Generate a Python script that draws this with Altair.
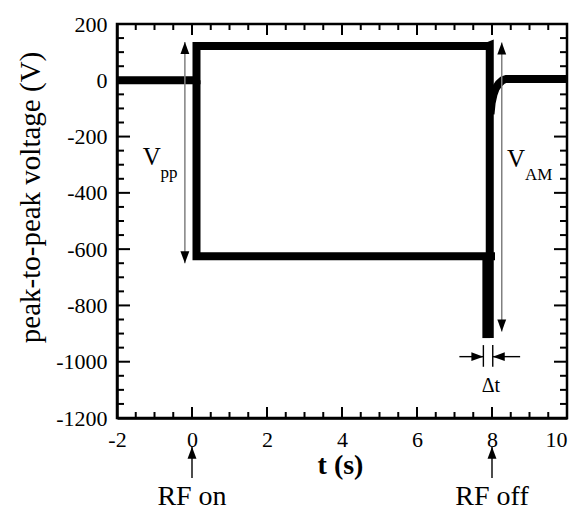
import altair as alt
import pandas as pd

# ---------------- data (t in s, v in V) ----------------
# upper envelope of the signal
upper_t = [-2.0, 0.12, 0.12, 7.90, 7.94, 7.94]
upper_v = [0, 0, 122, 122, 124, -916]
# lower envelope of the signal
lower_t = [0.12, 0.12, 8.08]
lower_v = [0, -625, -625]
# drop of the lower envelope after RF off
drop_t = [7.85, 7.85]
drop_v = [-625, -916]
# recovery to 0 V after RF off
recov_t = [7.96, 7.99, 8.04, 8.10, 8.18, 8.28, 8.38, 10.0]
recov_v = [-120, -80, -50, -28, -12, 0, 5, 5]

# axis ticks
x_major = [-2, 0, 2, 4, 6, 8, 10]
x_minor = [-1.5, -1, -0.5, 0.5, 1, 1.5, 2.5, 3, 3.5, 4.5, 5, 5.5,
           6.5, 7, 7.5, 8.5, 9, 9.5]
y_major = [200, 0, -200, -400, -600, -800, -1000, -1200]
y_minor = [150, 100, 50, -50, -100, -150, -250, -300, -350, -450, -500, -550,
           -650, -700, -750, -850, -900, -950, -1050, -1100, -1150]

# grey double arrows (V_pp, V_AM)
grey_t = [-0.19, 8.26]
grey_v1 = [136, 134]
grey_v2 = [-650, -893]

# black annotation rules: RF on, RF off, delta-t bars, delta-t shafts
blk_t1 = [0, 8, 7.77, 8.02, 7.13, 8.75]
blk_t2 = [0, 8, 7.77, 8.02, 7.77, 8.02]
blk_v1 = [-1413, -1413, -941, -941, -982, -982]
blk_v2 = [-1302, -1302, -1018, -1018, -982, -982]

# arrow heads
head_t = [-0.19, -0.19, 8.26, 8.26, 0, 8, 7.77, 8.02]
head_v = [136, -650, 134, -893, -1302, -1302, -982, -982]
head_dir = ["up", "down", "up", "down", "up", "up", "right", "left"]

# texts
big_text = ["V", "V"]
big_t = [-1.315, 8.40]
big_v = [-301, -308]
sub_text = ["pp", "AM"]
sub_t = [-0.837, 8.88]
sub_v = [-347, -354]
dt_text = ["\u0394t"]
dt_t = [7.97]
dt_v = [-1107]
rf_text = ["RF on", "RF off"]
rf_t = [0, 8]
rf_v = [-1509, -1509]

# ---------------- tables ----------------
rows = []
for name, ts, vs in [("upper", upper_t, upper_v), ("lower", lower_t, lower_v),
                     ("drop", drop_t, drop_v), ("recov", recov_t, recov_v)]:
    for i, (t, v) in enumerate(zip(ts, vs)):
        rows.append({"series": name, "idx": i, "t": t, "v": v})
sig = pd.DataFrame(rows)

xmaj = pd.DataFrame({"t": x_major})
xmin = pd.DataFrame({"t": x_minor})
ymaj = pd.DataFrame({"v": y_major})
ymin = pd.DataFrame({"v": y_minor})

grey = pd.DataFrame({"t": grey_t, "t2": grey_t, "v": grey_v1, "v2": grey_v2})
blk = pd.DataFrame({"t": blk_t1, "t2": blk_t2, "v": blk_v1, "v2": blk_v2})
heads = pd.DataFrame({"t": head_t, "v": head_v, "dir": head_dir})
bigdf = pd.DataFrame({"t": big_t, "v": big_v, "label": big_text})
subdf = pd.DataFrame({"t": sub_t, "v": sub_v, "label": sub_text})
dtdf = pd.DataFrame({"t": dt_t, "v": dt_v, "label": dt_text})
rfdf = pd.DataFrame({"t": rf_t, "v": rf_v, "label": rf_text})

FONT = "Liberation Serif"
W, H = 450, 394
MAJ, MIN = 11, 6

xs = alt.Scale(domain=[-2, 10], nice=False, zero=False)
ys = alt.Scale(domain=[-1200, 200], nice=False, zero=False)

x_axis = alt.Axis(values=x_major, ticks=False, tickSize=0, grid=False,
                  labelFlush=False, labelOverlap=False, labelBound=False,
                  labelAlign={"condition": {"test": "datum.value == 10", "value": "right"},
                              "value": "center"},
                  labelPadding=11, labelFontSize=22, labelFont=FONT,
                  labelColor="black", labelExpr="'' + datum.value",
                  titleFont=FONT, titleFontSize=28, titleFontWeight="bold",
                  titleColor="black", titleX=223, titleY=55,
                  titleBaseline="alphabetic", domainColor="black",
                  domainWidth=2.5)
y_axis = alt.Axis(values=y_major, ticks=False, tickSize=0, grid=False,
                  labelFlush=False, labelOverlap=False, labelBound=False,
                  labelPadding=10, labelFontSize=22, labelFont=FONT,
                  labelColor="black", labelExpr="'' + datum.value",
                  titleFont=FONT, titleFontSize=29, titleFontWeight="normal",
                  titleColor="black", titleX=-78, titleY=173,
                  titleBaseline="alphabetic", domainColor="black",
                  domainWidth=2.5)

X = alt.X("t:Q", scale=xs, axis=x_axis, title="t (s)")
Y = alt.Y("v:Q", scale=ys, axis=y_axis, title="peak-to-peak voltage (V)")
X2 = alt.X2("t2:Q")
Y2 = alt.Y2("v2:Q")

def xticks(df, ln):
    b = alt.Chart(df).mark_rule(color="black", strokeWidth=2).encode(
        x=X, y=alt.value(H), y2=alt.value(H - ln))
    t = alt.Chart(df).mark_rule(color="black", strokeWidth=2).encode(
        x=X, y=alt.value(0), y2=alt.value(ln))
    return [b, t]

def yticks(df, ln):
    l = alt.Chart(df).mark_rule(color="black", strokeWidth=2).encode(
        y=Y, x=alt.value(0), x2=alt.value(ln))
    r = alt.Chart(df).mark_rule(color="black", strokeWidth=2).encode(
        y=Y, x=alt.value(W), x2=alt.value(W - ln))
    return [l, r]

tick_layers = xticks(xmaj, MAJ) + xticks(xmin, MIN) + yticks(ymaj, MAJ + 2) + yticks(ymin, MIN + 1)

signal = alt.Chart(sig).mark_line(
    color="black", strokeWidth=8, strokeJoin="miter", strokeCap="butt",
    clip=True
).encode(x=X, y=Y, detail="series:N", order="idx:Q")

grey_rules = alt.Chart(grey).mark_rule(color="#808080", strokeWidth=1.5).encode(
    x=X, x2=X2, y=Y, y2=Y2)
blk_rules = alt.Chart(blk).mark_rule(color="black", strokeWidth=1.4).encode(
    x=X, x2=X2, y=Y, y2=Y2)

paths = {
    "up": "M0,0L-0.37,1L0.37,1Z",
    "down": "M0,0L-0.37,-1L0.37,-1Z",
    "right": "M0,0L-1,-0.37L-1,0.37Z",
    "left": "M0,0L1,-0.37L1,0.37Z",
}
head_layer = alt.Chart(heads).mark_point(
    filled=True, size=576, opacity=1, color="black", strokeWidth=0
).encode(
    x=X, y=Y,
    shape=alt.Shape("dir:N", scale=alt.Scale(domain=list(paths.keys()),
                                             range=list(paths.values())),
                    legend=None))

def text_layer(df, size, align="left", weight="normal"):
    return alt.Chart(df).mark_text(
        font=FONT, fontSize=size, align=align, baseline="alphabetic",
        color="black", fontWeight=weight
    ).encode(x=X, y=Y, text="label:N")

texts = [text_layer(bigdf, 25), text_layer(subdf, 17),
         text_layer(dtdf, 20, "center"), text_layer(rfdf, 28, "center")]

chart = alt.layer(
    *tick_layers, signal, grey_rules, blk_rules, head_layer, *texts
).properties(
    width=W, height=H,
    autosize=alt.AutoSizeParams(type="none"),
    padding={"left": 109, "top": 16, "right": 3, "bottom": 92},
).configure(
    background="white", font=FONT
).configure_axis(
    labelFont=FONT, titleFont=FONT
).configure_text(font=FONT).configure_view(stroke="black", strokeWidth=2.5)

chart.save("out.html", embed_options={"renderer": "svg", "actions": False})
